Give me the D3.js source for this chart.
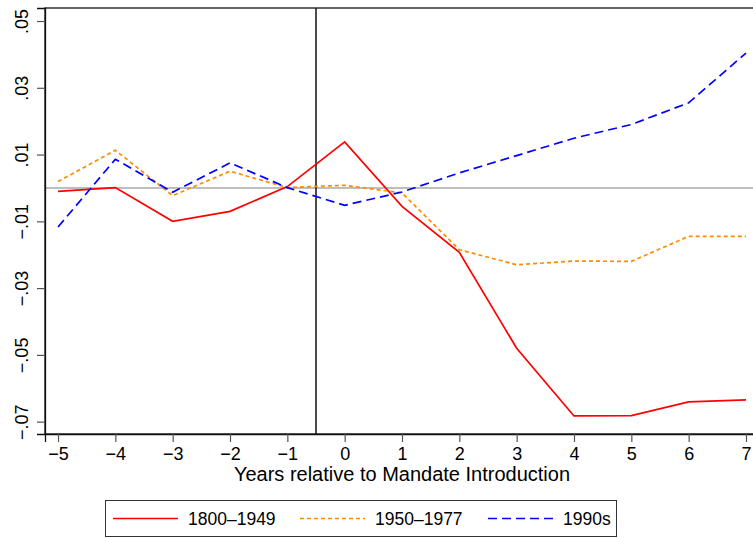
<!DOCTYPE html>
<html>
<head>
<meta charset="utf-8">
<script src="https://cdn.jsdelivr.net/npm/d3@7/dist/d3.min.js"></script>
<style>
  html, body { margin: 0; padding: 0; background: #fff; }
  svg { display: block; font-family: "Liberation Sans", Arial, Helvetica, sans-serif; }
</style>
</head>
<body>
<svg id="chart" width="753" height="538"></svg>
<script>
// Event-time axis and estimated effects by era
const years = [-5, -4, -3, -2, -1, 0, 1, 2, 3, 4, 5, 6, 7];
const era1800 = [-0.001, 0.0001, -0.010, -0.007, 0.0004, 0.0138, -0.0055, -0.0193, -0.048, -0.0683, -0.0682, -0.0641, -0.0635];
const era1950 = [0.0019, 0.0113, -0.0023, 0.005, 0.0001, 0.0008, -0.0015, -0.0185, -0.023, -0.0219, -0.022, -0.0145, -0.0145];
const era1990 = [-0.0117, 0.0086, -0.0013, 0.0075, 0.0001, -0.0052, -0.0012, 0.0045, 0.0097, 0.0149, 0.019, 0.0255, 0.0404];

const yTicks = [0.05, 0.03, 0.01, -0.01, -0.03, -0.05, -0.07];
const yTickLabels = [".05", ".03", ".01", "\u2212.01", "\u2212.03", "\u2212.05", "\u2212.07"];
const xTicks = years;
const seriesNames = ["1800\u20131949", "1950\u20131977", "1990s"];
const mandateLine = -0.5;
const xTitle = "Years relative to Mandate Introduction";

const series = [
  { name: seriesNames[0], values: era1800, color: "#ff0000", dash: null },
  { name: seriesNames[1], values: era1950, color: "#ff8c00", dash: "4,3" },
  { name: seriesNames[2], values: era1990, color: "#0000ff", dash: "9,5" }
];

const svg = d3.select("#chart");
const plot = { left: 45, right: 759, top: 8, bottom: 434 };

const x = d3.scaleLinear().domain([-5.227, 7.227]).range([plot.left, plot.right]);
const y = d3.scaleLinear().domain([-0.0737, 0.0539]).range([plot.bottom, plot.top]);

// plot frame
svg.append("rect")
  .attr("x", plot.left).attr("y", plot.top)
  .attr("width", plot.right - plot.left).attr("height", plot.bottom - plot.top)
  .attr("fill", "none").attr("stroke", "#111").attr("stroke-width", 1.3);

// zero reference line
svg.append("line")
  .attr("x1", plot.left).attr("x2", plot.right)
  .attr("y1", y(0)).attr("y2", y(0))
  .attr("stroke", "#a8a8a8").attr("stroke-width", 1.5);

// mandate introduction marker
svg.append("line")
  .attr("x1", x(mandateLine)).attr("x2", x(mandateLine))
  .attr("y1", plot.top).attr("y2", plot.bottom)
  .attr("stroke", "#111").attr("stroke-width", 1.5);

// y axis
const yAxis = d3.axisLeft(y)
  .tickValues(yTicks)
  .tickSize(8)
  .tickPadding(9)
  .tickFormat((d, i) => yTickLabels[i]);
const gy = svg.append("g").attr("transform", `translate(${plot.left},0)`).call(yAxis);
gy.select(".domain").attr("stroke", "#111").attr("stroke-width", 1.3);
gy.selectAll(".tick line").attr("stroke", "#555").attr("stroke-width", 1.2);
gy.selectAll(".tick text")
  .attr("font-size", 18)
  .attr("fill", "#000")
  .attr("text-anchor", "middle")
  .attr("x", 0).attr("dy", 0)
  .attr("transform", "translate(-17,0) rotate(-90)");

// x axis
const xAxis = d3.axisBottom(x)
  .tickValues(xTicks)
  .tickSize(8)
  .tickPadding(5)
  .tickFormat(d => d < 0 ? "\u2212" + Math.abs(d) : String(d));
const gx = svg.append("g").attr("transform", `translate(0,${plot.bottom})`).call(xAxis);
gx.select(".domain").attr("stroke", "#111").attr("stroke-width", 1.3);
gx.selectAll(".tick line").attr("stroke", "#555").attr("stroke-width", 1.2);
gx.selectAll(".tick text").attr("font-size", 18).attr("fill", "#000");

svg.append("text")
  .attr("x", (plot.left + plot.right) / 2)
  .attr("y", 481)
  .attr("text-anchor", "middle")
  .attr("font-size", 20)
  .attr("fill", "#000")
  .text(xTitle);

// series lines
const line = d3.line().x((d, i) => x(years[i])).y(d => y(d));
series.forEach(s => {
  svg.append("path")
    .datum(s.values)
    .attr("d", line)
    .attr("fill", "none")
    .attr("stroke", s.color)
    .attr("stroke-width", 1.7)
    .attr("stroke-dasharray", s.dash);
});

// legend
const legend = svg.append("g");
legend.append("rect")
  .attr("x", 105.5).attr("y", 500.5).attr("width", 511).attr("height", 36)
  .attr("fill", "#fff").attr("stroke", "#333").attr("stroke-width", 1);
const legendX = [113, 300, 488];
series.forEach((s, i) => {
  legend.append("line")
    .attr("x1", legendX[i]).attr("x2", legendX[i] + 65)
    .attr("y1", 518.5).attr("y2", 518.5)
    .attr("stroke", s.color).attr("stroke-width", 1.7)
    .attr("stroke-dasharray", s.dash);
  legend.append("text")
    .attr("x", legendX[i] + 75).attr("y", 525)
    .attr("font-size", 17.5).attr("fill", "#000")
    .text(s.name);
});
</script>
</body>
</html>
